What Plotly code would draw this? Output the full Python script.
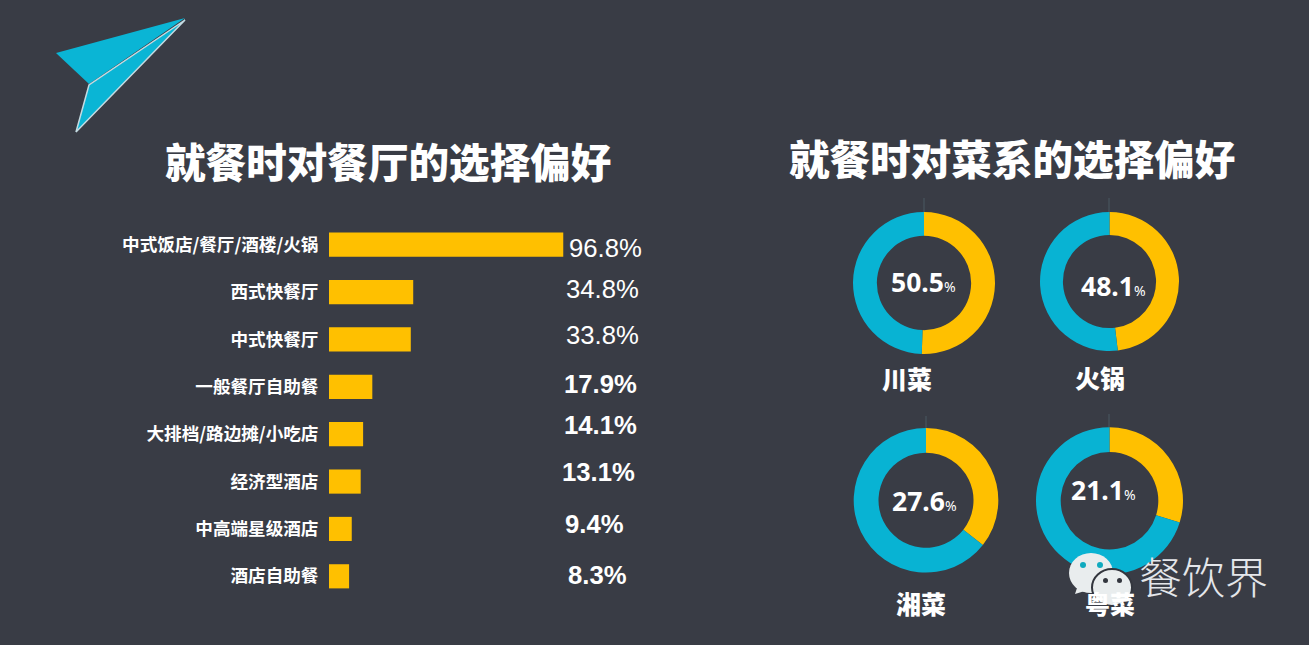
import plotly.graph_objects as go

W, H = 1309, 645
BG = "#393c45"
YELLOW = "#ffc000"
TEAL = "#08b3d3"
CJK = "Noto Sans CJK SC"

# --- data ---
venue_categories = ["中式饭店/餐厅/酒楼/火锅", "西式快餐厅", "中式快餐厅", "一般餐厅自助餐",
                    "大排档/路边摊/小吃店", "经济型酒店", "中高端星级酒店", "酒店自助餐"]
venue_values = [96.8, 34.8, 33.8, 17.9, 14.1, 13.1, 9.4, 8.3]

cuisine_names = ["川菜", "火锅", "湘菜", "粤菜"]
cuisine_labels = [50.5, 48.1, 27.6, 21.1]
# the rings are not drawn to their printed labels: these are the arcs
cuisine_arcs = [50.5, 48.1, 35.6, 29.8]

title_left = "就餐时对餐厅的选择偏好"
title_right = "就餐时对菜系的选择偏好"
watermark = "餐饮界"

# --- layout helpers ---
def px(x):
    return x / W

def py(y):
    return 1 - y / H

def path(points):
    return "M " + " L ".join(f"{px(x):.5f},{py(y):.5f}" for x, y in points) + " Z"

fig = go.Figure()

# bars
fig.add_trace(go.Bar(
    x=venue_values, y=venue_categories, orientation="h",
    marker=dict(color=YELLOW, line=dict(width=0)), width=0.51, showlegend=False,
))

# rings: (centre x, centre y, radius, hole)
ring_geometry = [(924, 283, 71, 0.664), (1109.5, 281.5, 69.5, 0.67),
                 (926, 500.3, 72.3, 0.657), (1109.5, 500.7, 73.5, 0.664)]
for arc, (cx, cy, r, hole) in zip(cuisine_arcs, ring_geometry):
    fig.add_trace(go.Pie(
        values=[arc, 100 - arc], sort=False, direction="clockwise", rotation=0,
        hole=hole, textinfo="none", showlegend=False,
        marker=dict(colors=[YELLOW, TEAL], line=dict(width=0)),
        domain=dict(x=[px(cx - r), px(cx + r)], y=[py(cy + r), py(cy - r)]),
    ))

ann = []

def text(s, x, y, size, color="#ffffff", family=CJK, weight=700, anchor="center"):
    ann.append(dict(text=s, x=px(x), y=py(y), xref="paper", yref="paper", xanchor=anchor,
                    yanchor="middle", showarrow=False,
                    font=dict(size=size, color=color, family=family, weight=weight)))

text(title_left, 388, 161, 40.6, weight=900)
text(title_right, 1012, 158, 40.6, weight=900)

# value labels beside the bars (they do not sit on the bar rows exactly)
value_x = [605.5, 602.5, 602.5, 600, 600.5, 598.5, 594, 597]
value_y = [248, 289, 335, 384, 425, 472, 524, 575]
value_w = [400, 400, 400, 700, 700, 700, 700, 700]
for v, x, y, w in zip(venue_values, value_x, value_y, value_w):
    text(f"{v}%", x, y, 25.7, family="Liberation Sans", weight=w)

# ring centre labels
centre_xy = [(923.5, 282), (1113, 286), (924.5, 501), (1103.5, 490)]
for v, (x, y) in zip(cuisine_labels, centre_xy):
    text(f'{v}<span style="font-size:14px;font-weight:400">%</span>', x, y, 26.5, family="Noto Sans")

# ring names
name_xy = [(907, 378), (1100, 377), (921, 603), (1110, 603)]
for n, (x, y) in zip(cuisine_names, name_xy):
    text(n, x, y, 25, weight=900)

text(watermark, 1203.5, 575, 43, color="#e4e6ea", weight=300)

# --- decoration ---
LOGO = "#e9edee"
HAIR = "#4b5862"
shapes = [
    # paper plane
    dict(type="path", path=path([(185, 18), (56, 53), (89, 84)]), fillcolor="#0ab5d5",
         line=dict(width=0)),
    dict(type="path", path=path([(185, 20), (89, 85), (76, 132)]), fillcolor="#0ab5d5",
         line=dict(color="#c4dbe2", width=1.5)),
    # hairlines above the rings
    dict(type="line", x0=px(924), x1=px(924), y0=py(198), y1=py(212), line=dict(color=HAIR, width=1)),
    dict(type="line", x0=px(1109), x1=px(1109), y0=py(198), y1=py(212), line=dict(color=HAIR, width=1)),
    dict(type="line", x0=px(926), x1=px(926), y0=py(416), y1=py(428), line=dict(color=HAIR, width=1)),
    dict(type="line", x0=px(1109), x1=px(1109), y0=py(414), y1=py(427), line=dict(color=HAIR, width=1)),
    # speech bubbles
    dict(type="path", path=path([(1078, 585), (1075, 594), (1088, 590)]), fillcolor=LOGO,
         line=dict(width=0)),
    dict(type="circle", x0=px(1069), x1=px(1113), y0=py(593), y1=py(553), fillcolor=LOGO,
         line=dict(width=0)),
    dict(type="circle", x0=px(1080), x1=px(1086), y0=py(568), y1=py(562), fillcolor="#10aabf",
         line=dict(width=0)),
    dict(type="circle", x0=px(1097), x1=px(1103), y0=py(568), y1=py(562), fillcolor="#10aabf",
         line=dict(width=0)),
    dict(type="circle", x0=px(1092), x1=px(1132), y0=py(606), y1=py(569), fillcolor=LOGO,
         line=dict(color="#33363e", width=2)),
    dict(type="circle", x0=px(1103), x1=px(1108), y0=py(583), y1=py(578), fillcolor="#33363e",
         line=dict(width=0)),
    dict(type="circle", x0=px(1117), x1=px(1122), y0=py(583), y1=py(578), fillcolor="#33363e",
         line=dict(width=0)),
]
for s in shapes:
    s.update(xref="paper", yref="paper", layer="above")

fig.update_layout(
    width=W, height=H, autosize=False,
    margin=dict(l=0, r=0, t=0, b=0),
    paper_bgcolor=BG, plot_bgcolor=BG,
    annotations=ann, shapes=shapes,
    font=dict(family=CJK, color="#ffffff"),
    xaxis=dict(domain=[px(329), px(329 + 242)], range=[0, 100], visible=False),
    yaxis=dict(domain=[py(600), py(221)], autorange=False, range=[7.5, -0.5],
               type="category", categoryorder="array", categoryarray=venue_categories,
               showgrid=False, zeroline=False, showline=False,
               ticks="outside", ticklen=6, tickcolor="rgba(0,0,0,0)",
               tickfont=dict(size=17.6, color="#ffffff", family=CJK, weight=700)),
)

fig.write_html(
    "out.html",
    config=dict(displayModeBar=False),
    post_script=f"document.body.style.margin='0';document.body.style.overflow='hidden';"
                f"document.body.style.background='{BG}';",
)
